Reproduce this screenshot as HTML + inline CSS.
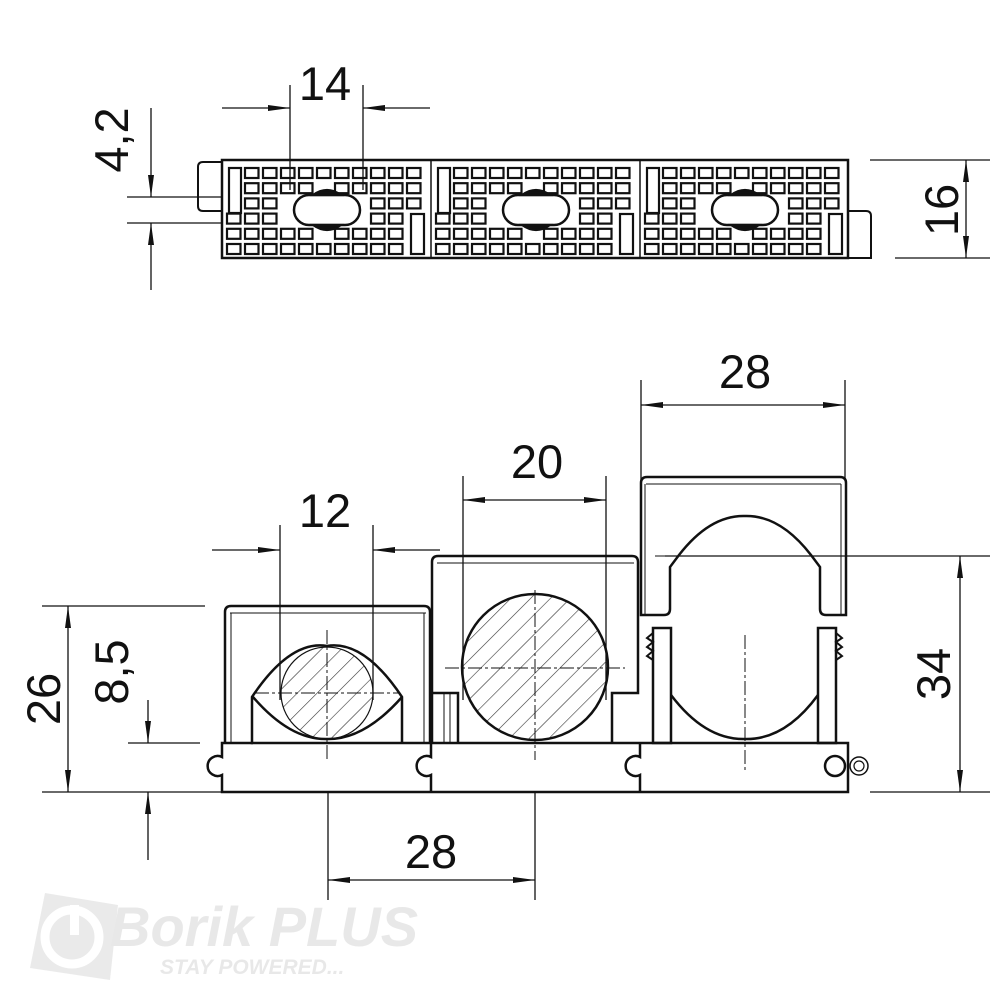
<!DOCTYPE html>
<html><head><meta charset="utf-8"><style>
html,body{margin:0;padding:0;background:#fff}
svg{display:block}
text{font-family:"Liberation Sans",sans-serif;fill:#111}
</style></head><body>
<svg id="s" width="1000" height="1000" viewBox="0 0 1000 1000" xmlns="http://www.w3.org/2000/svg">
<defs>
<marker id="a" markerWidth="22" markerHeight="8" refX="22" refY="4" orient="auto" markerUnits="userSpaceOnUse"><path d="M0,1 L22,4 L0,7 Z" fill="#111"/></marker>
<pattern id="h" width="14" height="14" patternUnits="userSpaceOnUse" patternTransform="rotate(45)"><line x1="0" y1="0" x2="0" y2="14" stroke="#333" stroke-width="1.2"/></pattern>
</defs>
<g opacity="0.13">
<path d="M45,893 L118,905 L110,980 L30,968 Z" fill="#666"/>
<circle cx="72" cy="937" r="27" fill="none" stroke="#fff" stroke-width="9"/>
<rect x="70" y="905" width="9" height="30" fill="#fff"/>
<text x="110" y="946" font-size="56" font-weight="bold" font-style="italic" style="fill:#555">Borik PLUS</text>
<text x="160" y="974" font-size="21" font-weight="bold" font-style="italic" style="fill:#555">STAY POWERED...</text>
</g>
<g id="top" stroke="#111" fill="none">
<path d="M222,162 H203 Q198,162 198,167 V206 Q198,211 203,211 H222" stroke-width="2"/>
<path d="M848,211 H866 Q871,211 871,216 V258 H848" stroke-width="2"/>
<rect x="222" y="160" width="626" height="98" stroke-width="2.5"/>
<line x1="431" y1="160" x2="431" y2="258" stroke-width="1.5"/>
<line x1="640" y1="160" x2="640" y2="258" stroke-width="1.5"/>
<g id="cells" stroke-width="2.2"></g>
</g>
<g id="dims" stroke="#111" stroke-width="1.3" fill="none">
<line x1="290" y1="85" x2="290" y2="190"/><line x1="363" y1="85" x2="363" y2="190"/>
<line x1="222" y1="108" x2="290" y2="108" marker-end="url(#a)"/>
<line x1="430" y1="108" x2="363" y2="108" marker-end="url(#a)"/>
<line x1="127" y1="197" x2="222" y2="197"/><line x1="127" y1="223" x2="222" y2="223"/>
<line x1="151" y1="108" x2="151" y2="197" marker-end="url(#a)"/>
<line x1="151" y1="290" x2="151" y2="223" marker-end="url(#a)"/>
<line x1="870" y1="160" x2="990" y2="160"/><line x1="895" y1="258" x2="990" y2="258"/>
<line x1="966" y1="210" x2="966" y2="160" marker-end="url(#a)"/>
<line x1="966" y1="210" x2="966" y2="258" marker-end="url(#a)"/>
<line x1="641" y1="380" x2="641" y2="480"/><line x1="845" y1="380" x2="845" y2="480"/>
<line x1="743" y1="405" x2="641" y2="405" marker-end="url(#a)"/>
<line x1="743" y1="405" x2="845" y2="405" marker-end="url(#a)"/>
<line x1="463" y1="476" x2="463" y2="700"/><line x1="606" y1="476" x2="606" y2="700"/>
<line x1="535" y1="500" x2="463" y2="500" marker-end="url(#a)"/>
<line x1="535" y1="500" x2="606" y2="500" marker-end="url(#a)"/>
<line x1="280" y1="525" x2="280" y2="700"/><line x1="373" y1="525" x2="373" y2="700"/>
<line x1="212" y1="550" x2="280" y2="550" marker-end="url(#a)"/>
<line x1="440" y1="550" x2="373" y2="550" marker-end="url(#a)"/>
<line x1="42" y1="606" x2="205" y2="606"/><line x1="42" y1="792" x2="222" y2="792"/>
<line x1="68" y1="699" x2="68" y2="606" marker-end="url(#a)"/>
<line x1="68" y1="699" x2="68" y2="792" marker-end="url(#a)"/>
<line x1="128" y1="743" x2="200" y2="743"/>
<line x1="148" y1="700" x2="148" y2="743" marker-end="url(#a)"/>
<line x1="148" y1="860" x2="148" y2="792" marker-end="url(#a)"/>
<line x1="665" y1="556" x2="990" y2="556"/><line x1="870" y1="792" x2="990" y2="792"/>
<line x1="960" y1="674" x2="960" y2="556" marker-end="url(#a)"/>
<line x1="960" y1="674" x2="960" y2="792" marker-end="url(#a)"/>
<line x1="328" y1="792" x2="328" y2="900"/><line x1="535" y1="792" x2="535" y2="900"/>
<line x1="431" y1="880" x2="328" y2="880" marker-end="url(#a)"/>
<line x1="431" y1="880" x2="535" y2="880" marker-end="url(#a)"/>
</g>
<g font-size="47">
<text x="325" y="100" text-anchor="middle">14</text>
<text transform="translate(128,140) rotate(-90)" text-anchor="middle">4,2</text>
<text transform="translate(958,210) rotate(-90)" text-anchor="middle">16</text>
<text x="745" y="388" text-anchor="middle">28</text>
<text x="537" y="478" text-anchor="middle">20</text>
<text x="325" y="527" text-anchor="middle">12</text>
<text transform="translate(60,699) rotate(-90)" text-anchor="middle">26</text>
<text transform="translate(128,672) rotate(-90)" text-anchor="middle">8,5</text>
<text transform="translate(950,674) rotate(-90)" text-anchor="middle">34</text>
<text x="431" y="868" text-anchor="middle">28</text>
</g>
<g stroke="#111" fill="none">
<path d="M222,743 H848 V792 H222 V775 A10,10 0 1 1 222,757 Z" stroke-width="2.5"/>
<path d="M431,743 V757 A10,10 0 1 0 431,775 V792" stroke-width="2.5"/>
<path d="M640,743 V757 A10,10 0 1 0 640,775 V792" stroke-width="2.5"/>
<circle cx="835" cy="766" r="10" stroke-width="2.5"/>
<circle cx="859" cy="766" r="9" stroke-width="1.5"/><circle cx="859" cy="766" r="5" stroke-width="1.2"/>
<path d="M225,743 V612 Q225,606 231,606 H424 Q430,606 430,612 V743" stroke-width="2.5"/>
<line x1="230" y1="613" x2="426" y2="613" stroke-width="1"/>
<line x1="231" y1="613" x2="231" y2="743" stroke-width="1"/>
<line x1="424" y1="613" x2="424" y2="743" stroke-width="1"/>
<circle cx="327" cy="693" r="46" fill="url(#h)" stroke-width="1.2"/>
<path d="M253,743 H252 V697 Q290,640 327,646 Q364,640 402,697 V743" stroke-width="2.5" fill="none"/>
<path d="M253,697 Q290,740 327,739 Q364,740 402,697" stroke-width="2.5"/>
<line x1="255" y1="693" x2="400" y2="693" stroke-width="1" stroke-dasharray="14,3,3,3"/>
<line x1="327" y1="630" x2="327" y2="760" stroke-width="1" stroke-dasharray="14,3,3,3"/>
<path d="M432,743 V562 Q432,556 438,556 H632 Q638,556 638,562 V693 H612 V743" stroke-width="2.5"/>
<line x1="437" y1="563" x2="634" y2="563" stroke-width="1"/>
<path d="M432,693 H458 V743" stroke-width="2.5"/>
<line x1="444" y1="693" x2="444" y2="743" stroke-width="1"/><line x1="450" y1="693" x2="450" y2="743" stroke-width="1"/>
<circle cx="535" cy="667" r="73" fill="url(#h)" stroke-width="2.5"/>
<line x1="445" y1="668" x2="625" y2="668" stroke-width="1" stroke-dasharray="14,3,3,3"/>
<line x1="535" y1="590" x2="535" y2="760" stroke-width="1" stroke-dasharray="14,3,3,3"/>
<path d="M641,615 V483 Q641,477 647,477 H840 Q846,477 846,483 V615 H826 Q820,615 820,609 V567 L811,555 Q780,515 745,516 Q710,515 679,555 L670,567 V609 Q670,615 664,615 Z" stroke-width="2.5"/>
<line x1="646" y1="484" x2="841" y2="484" stroke-width="1"/>
<line x1="645" y1="484" x2="645" y2="615" stroke-width="1"/><line x1="841" y1="484" x2="841" y2="615" stroke-width="1"/>
<path d="M653,743 V628 H671 V743 Z M818,743 V628 H836 V743 Z" stroke-width="2.5"/>
<path d="M653,633 l-6,5 l6,4 l-6,5 l6,4 l-6,5 l6,4 M836,633 l6,5 l-6,4 l6,5 l-6,4 l6,5 l-6,4" stroke-width="2"/>
<path d="M671,695 Q705,740 745,739 Q785,740 818,695" stroke-width="2.5"/>
<line x1="655" y1="556" x2="880" y2="556" stroke-width="1"/>
<line x1="745" y1="635" x2="745" y2="770" stroke-width="1" stroke-dasharray="14,3,3,3"/>
</g>
</svg>
<script>
var g=document.getElementById('cells'),ns='http://www.w3.org/2000/svg';
function r(x,y,w,h,sw){var e=document.createElementNS(ns,'rect');e.setAttribute('x',x);e.setAttribute('y',y);e.setAttribute('width',w);e.setAttribute('height',h);if(sw)e.setAttribute('stroke-width',sw);g.appendChild(e);}
[222,431,640].forEach(function(ox){
 var cx=ox+105;
 for(var row=0;row<6;row++){for(var col=0;col<11;col++){
  var x=ox+5+col*18,y=168+row*15.2;
  if(col==0&&row<3)continue;
  if(col==10&&row>2)continue;
  if((row==2||row==3)&&col>=3&&col<=7)continue;
  if(row==2&&col==0)continue;
  if((row==1||row==4)&&col==5)continue;
  r(x,y,13.5,10);
 }}
 r(ox+7,168,12,45,2.2);
 r(ox+189,214,13,40,2.2);
 var e=document.createElementNS(ns,'rect');e.setAttribute('x',cx-33);e.setAttribute('y',195);e.setAttribute('width',66);e.setAttribute('height',30);e.setAttribute('rx',15);e.setAttribute('stroke-width',2.5);g.appendChild(e);
 var p=document.createElementNS(ns,'path');p.setAttribute('d','M'+(cx-14)+',195 Q'+cx+',185 '+(cx+14)+',195 Z M'+(cx-14)+',225 Q'+cx+',235 '+(cx+14)+',225 Z');p.setAttribute('fill','#111');g.appendChild(p);
});
</script>
</body></html>
